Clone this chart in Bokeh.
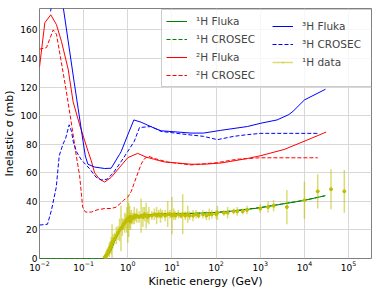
from bokeh.plotting import figure
from bokeh.models import Legend, LegendItem, SingleIntervalTicker, ColumnDataSource, Range1d
from bokeh.embed import file_html
from bokeh.resources import INLINE

# 1H (proton) inelastic cross sections
h1_E = [0.01, 0.3, 0.35, 0.42, 0.5, 0.6, 0.71, 0.8, 1.0, 1.2, 1.6, 2.4, 5.6, 10, 32, 100, 300, 1000, 3000, 10000, 30000]
h1_fluka = [0, 0, 2, 6, 12, 17, 22, 24.5, 27.5, 28.5, 29.5, 30.5, 31.3, 31.5, 31.6, 32.2, 33.5, 35.5, 38, 40.7, 44]
h1_crosec = [0, 0, 2.2, 6.3, 12.3, 17.2, 22, 24.5, 27.3, 28.4, 29.4, 30.4, 31.2, 31.4, 31.6, 32.3, 33.7, 35.7, 38.1, 40.8, 44]

# 2H
h2_fluka_E = [0.01, 0.0132, 0.018, 0.0242, 0.0314, 0.0445, 0.0577, 0.081, 0.126, 0.149, 0.177, 0.23, 0.3, 0.42, 0.64,
              1.0, 1.67, 2.6, 4.0, 6.7, 11.5, 27, 54, 127, 513, 1030, 3450, 9800, 31000]
h2_fluka = [134, 165, 170.6, 163.7, 152, 132.6, 109.7, 93.6, 75, 68.3, 60, 55.5, 53.5, 56.8, 63.5,
            70.6, 73.6, 71, 69.4, 67.6, 67, 66, 66, 66.8, 70, 72, 76.3, 82, 88.5]
h2_crosec_E = [0.01, 0.0144, 0.0204, 0.0242, 0.0314, 0.04, 0.052, 0.068, 0.081, 0.095, 0.11, 0.15, 0.2, 0.3, 0.42,
               0.55, 0.8, 1.0, 1.2, 1.4, 1.7, 2.0, 2.4, 3.0, 4.0, 8.0, 27, 100, 300, 1000, 20000]
h2_crosec = [146.5, 147.6, 160, 157, 137, 118, 96, 72, 58, 36, 32.5, 32.5, 34, 35, 35,
             36, 40.7, 43, 47, 53, 60, 66, 70, 71.5, 70, 67.5, 65.5, 67, 69.5, 70.5, 70.5]

# 3H
h3_fluka_E = [0.0178, 0.022, 0.028, 0.0348, 0.061, 0.075, 0.097, 0.109, 0.125, 0.178, 0.3, 0.42, 0.65, 0.71, 1.0,
              1.37, 2.0, 4.0, 5.7, 27, 52, 127, 513, 1030, 2400, 4400, 5500, 10000, 30000]
h3_fluka = [173, 190, 192, 175, 123.4, 105, 82, 71.7, 66, 64, 63, 63.2, 72.9, 75, 86.6,
            97, 95.4, 91.2, 89.4, 87.8, 87.8, 89.7, 92.4, 94.7, 97, 100.7, 103, 111, 118.5]
h3_crosec_E = [0.01, 0.0152, 0.0187, 0.024, 0.028, 0.034, 0.039, 0.047, 0.053, 0.058, 0.068, 0.089, 0.135, 0.19, 0.25,
               0.34, 0.47, 0.71, 1.0, 1.4, 1.84, 3.4, 5.6, 22.6, 52, 107, 250, 513, 1030, 20000]
h3_crosec = [23.4, 24, 34, 50, 72, 80, 84, 93.6, 89, 82, 75, 69, 63, 57, 55,
             55.5, 60, 68, 75, 82, 91.7, 92.4, 89, 86.7, 85.5, 83.2, 85.5, 86.7, 87.6, 87.6]

# 1H measured data
data_E = [0.30, 0.32, 0.34, 0.36, 0.38, 0.40, 0.42, 0.44, 0.46, 0.50, 0.55, 0.60, 0.65, 0.70, 0.75, 0.80, 0.85,
          0.90, 0.95, 1.00, 1.05, 1.10, 1.15, 1.2, 1.3, 1.4, 1.5, 1.6, 1.8, 2.0, 2.2, 2.4, 2.6, 2.8, 3.0, 3.5,
          4.0, 4.5, 5.0, 5.5, 6.0, 7.0, 8.0, 9.0, 10, 11, 12, 14, 16, 17.5, 20, 22.7, 25, 30, 35, 40, 50, 60,
          70, 80, 100, 107, 150, 182, 250, 300, 400, 500, 1000, 1500, 2000, 4000, 10000, 20000, 40000, 80000]
data_sigma = [1, 2, 3, 5, 6, 8, 9, 11, 12, 14, 16, 18, 20, 21, 22, 24, 25,
              26, 27, 28, 27, 29, 26, 29, 28, 30, 29, 30, 29, 30, 29, 31, 30, 29, 30, 30,
              31, 30, 31, 30, 31, 30, 31, 31, 30, 31, 30, 31, 30, 31, 30, 31, 30, 30, 31, 30, 31, 30,
              31, 31, 31, 32, 32, 32, 33, 33, 33, 34, 35, 36, 37, 36, 40.7, 47, 48.5, 47]
data_err = [2, 3, 4, 3, 5, 4, 6, 13, 5, 4, 6, 5, 8, 16, 6, 4, 7,
            5, 9, 17, 12, 8, 6, 5, 4, 6, 3, 5, 4, 12, 7, 5, 9, 4, 6, 3,
            4, 6, 3, 5, 3, 4, 9, 3, 13, 4, 3, 3, 2, 14, 3, 6, 3, 4, 3, 2, 3, 3,
            4, 3, 3, 5, 2, 4, 2, 3, 2, 3, 3, 4, 4, 12, 13, 12, 14, 15]

GREEN = "#008000"
RED = "#ff0000"
BLUE = "#0000ff"
YEL = "#bfbf00"
FONT = "DejaVu Sans"

p = figure(frame_width=332, frame_height=250, x_axis_type="log", output_backend="svg", toolbar_location=None,
           x_range=Range1d(0.01, 3.3e5), y_range=Range1d(0, 175),
           min_border_left=0, min_border_right=1, min_border_top=8, min_border_bottom=0)

p.outline_line_color = "#808080"
p.outline_line_width = 1
p.background_fill_color = "white"
p.border_fill_color = "white"

for ax in (p.xaxis, p.yaxis):
    ax.axis_line_color = None
    ax.major_tick_line_color = None
    ax.major_tick_out = 0
    ax.major_tick_in = 0
    ax.minor_tick_line_color = None
    ax.minor_tick_out = 0
    ax.major_label_text_font = FONT
    ax.major_label_text_font_size = "9px"
    ax.major_label_text_color = "black"
    ax.axis_label_text_font = FONT
    ax.axis_label_text_font_size = "11px"
    ax.axis_label_text_font_style = "normal"
    ax.axis_label_text_color = "black"
    ax.major_label_standoff = 2
    ax.axis_label_standoff = 1

p.yaxis.ticker = SingleIntervalTicker(interval=20)
p.xaxis.axis_label = "Kinetic energy (GeV)"
p.yaxis.axis_label = "Inelastic σ (mb)"
p.grid.grid_line_color = "#d8d8d8"
p.grid.grid_line_width = 1

lw = 1
r_h1f = p.line(h1_E, h1_fluka, color=GREEN, line_width=lw)
r_h1c = p.line(h1_E, h1_crosec, color=GREEN, line_width=lw, line_dash="4 2")
r_h2f = p.line(h2_fluka_E, h2_fluka, color=RED, line_width=lw)
r_h2c = p.line(h2_crosec_E, h2_crosec, color=RED, line_width=lw, line_dash="4 2")
r_h3f = p.line(h3_fluka_E, h3_fluka, color=BLUE, line_width=lw)
r_h3c = p.line(h3_crosec_E, h3_crosec, color=BLUE, line_width=lw, line_dash="4 2")

lo = [s - e for s, e in zip(data_sigma, data_err)]
hi = [s + e for s, e in zip(data_sigma, data_err)]
src = ColumnDataSource(dict(x=data_E, y=data_sigma, lo=lo, hi=hi))
p.segment(x0="x", y0="lo", x1="x", y1="hi", source=src, color=YEL, alpha=0.55, line_width=1.5)
p.scatter(x="x", y="y", source=src, size=3, color=YEL)

# legend-only helper glyphs for the data entry (placed outside the visible x range)
leg_src = ColumnDataSource(dict(x=[1e-6], y=[-1000]))
leg_bar = p.vspan(x="x", source=leg_src, line_color=YEL, line_alpha=0.55, line_width=1.5)
leg_dot = p.scatter(x="x", y="y", source=leg_src, marker="dot", size=10, line_color=YEL, fill_color=YEL, line_width=1)


def style(lg, border):
    lg.label_text_font = FONT
    lg.label_text_font_size = "10.5px"
    lg.glyph_width = 21
    lg.glyph_height = 14
    lg.label_height = 14
    lg.label_standoff = 9
    lg.spacing = 4
    lg.padding = 4
    lg.margin = 0
    if border:
        lg.border_line_color = "#cccccc"
        lg.border_line_alpha = 1
        lg.background_fill_color = "white"
        lg.background_fill_alpha = 0.8
    else:
        lg.border_line_color = None
        lg.background_fill_alpha = 0


legend_a = Legend(items=[
    LegendItem(label="¹H Fluka", renderers=[r_h1f]),
    LegendItem(label="¹H CROSEC", renderers=[r_h1c]),
    LegendItem(label="²H Fluka", renderers=[r_h2f]),
    LegendItem(label="²H CROSEC", renderers=[r_h2c]),
], location=(122, 171))
style(legend_a, True)
legend_a.label_width = 172

legend_b = Legend(items=[
    LegendItem(label="³H Fluka", renderers=[r_h3f]),
    LegendItem(label="³H CROSEC", renderers=[r_h3c]),
    LegendItem(label="¹H data", renderers=[leg_bar, leg_dot]),
], location=(233, 189))
style(legend_b, False)

p.add_layout(legend_a, "center")
p.add_layout(legend_b, "center")

open("out.html", "w").write(file_html(p, INLINE))
